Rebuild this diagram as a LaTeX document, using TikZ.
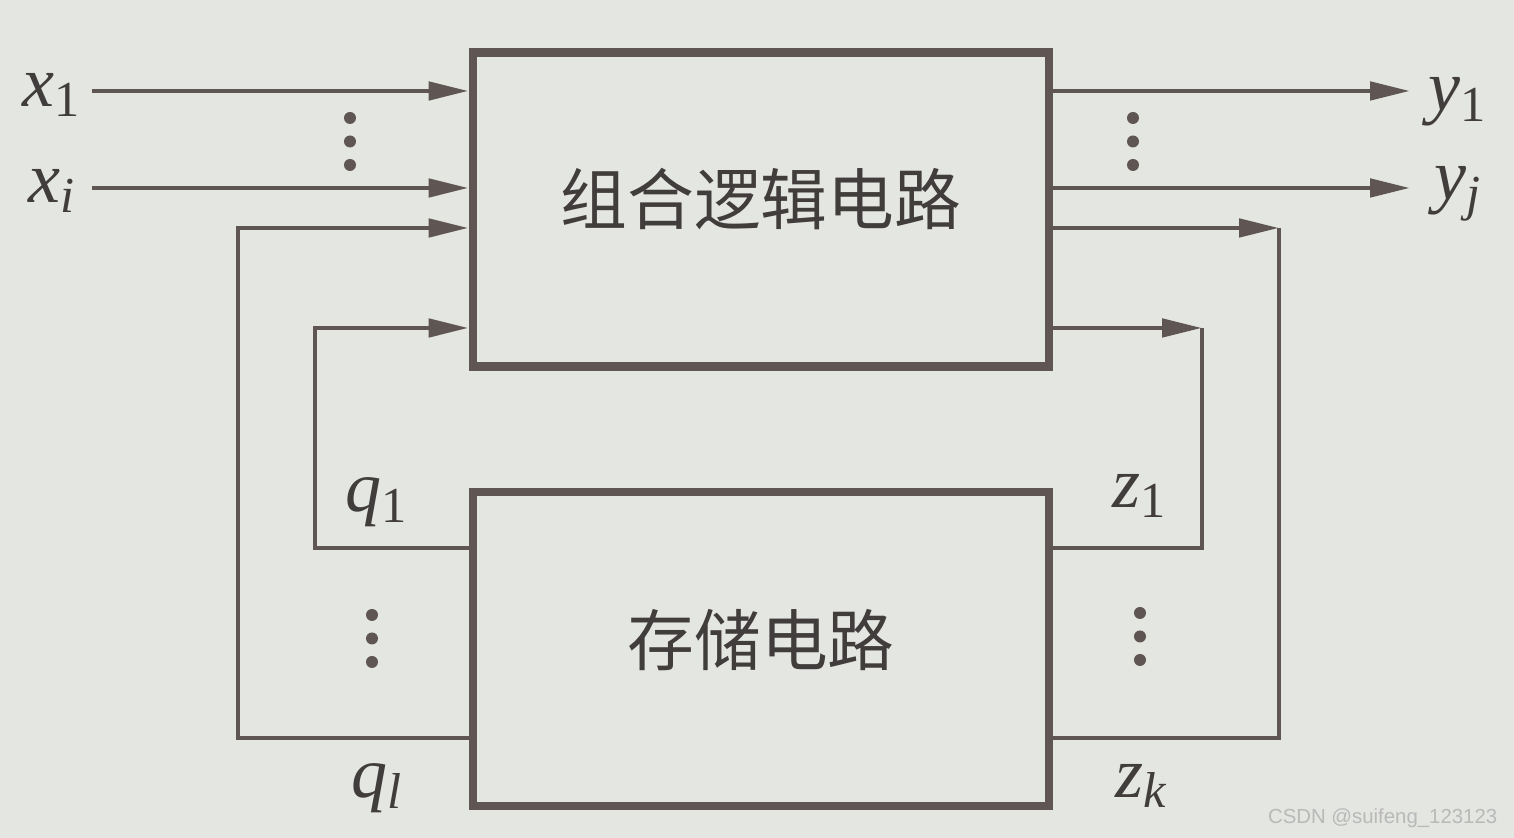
\documentclass[tikz,border=0pt]{standalone}
\usepackage{fontspec}
\setmainfont{Liberation Serif}
\setsansfont{Liberation Sans}
\newfontfamily\cjk{Noto Sans CJK SC}
\usepackage{tikz}
\usetikzlibrary{arrows.meta}
\definecolor{bgcol}{RGB}{228,230,226}
\definecolor{inkcol}{RGB}{95,86,83}
\definecolor{txtcol}{RGB}{66,61,61}
\newcommand{\lbl}[2]{\textit{#1}\textsubscript{#2}}
\tikzset{
  blk/.style={draw=inkcol, line width=2.5pt, minimum width=5.76cm, minimum height=3.14cm},
  blktext/.style={text=txtcol, font=\cjk\fontsize{19}{22}\selectfont},
  wire/.style={draw=inkcol, line width=1.4pt},
  sig/.style={wire, -{Triangle[length=4mm,width=1.8mm]}},
  lab/.style={text=txtcol, font=\fontsize{20.5}{24}\selectfont},
  dotfill/.style={fill=inkcol}
}
\begin{document}
\begin{tikzpicture}
        \useasboundingbox[fill=bgcol] (0,0) rectangle (15.14,8.38);

        \node[blk] (comb) at (7.61,6.285) {};
        \node[blk] (mem) at (7.61,1.89) {};
        \node[blktext] (combtxt) at ([yshift=1mm]comb.center) {组合逻辑电路};
        \node[blktext] (memtxt) at ([yshift=0.9mm]mem.center) {存储电路};

        \coordinate (in1) at (0.92,7.47);
        \coordinate (ini) at (0.92,6.50);
        \coordinate (out1) at (14.10,7.47);
        \coordinate (outj) at (14.10,6.50);
        \coordinate (q1) at (3.15,2.90);
        \coordinate (q1up) at (3.15,5.10);
        \coordinate (ql) at (2.38,1.00);
        \coordinate (qlup) at (2.38,6.10);
        \coordinate (z1) at (12.02,2.90);
        \coordinate (z1up) at (12.02,5.10);
        \coordinate (zk) at (12.79,1.00);
        \coordinate (zkup) at (12.79,6.10);

        \draw[sig] (in1) -- (in1 -| comb.west);
        \draw[sig] (ini) -- (ini -| comb.west);
        \draw[sig] (out1 -| comb.east) -- (out1);
        \draw[sig] (outj -| comb.east) -- (outj);

        \draw[sig] (q1 -| mem.west) -- (q1) -- (q1up) -- (q1up -| comb.west);
        \draw[sig] (ql -| mem.west) -- (ql) -- (qlup) -- (qlup -| comb.west);

        \draw[sig] (z1up -| comb.east) -- (z1up);
        \draw[wire] (z1up) -- (z1) -- (z1 -| mem.east);
        \draw[sig] (zkup -| comb.east) -- (zkup);
        \draw[wire] (zkup) -- (zk) -- (zk -| mem.east);

        \node[lab] (lx1) at (0.52,7.43) {\lbl{x}{1}};
        \node[lab] (lxi) at (0.52,6.47) {\lbl{x}{\textit{i}}};
        \node[lab] (ly1) at (14.58,7.36) {\lbl{y}{1}};
        \node[lab] (lyj) at (14.58,6.44) {\lbl{y}{\textit{j}}};
        \node[lab] (lq1) at (3.77,3.36) {\lbl{q}{1}};
        \node[lab] (lql) at (3.77,0.50) {\lbl{q}{\textit{l}}};
        \node[lab] (lz1) at (11.40,3.42) {\lbl{z}{1}};
        \node[lab] (lzk) at (11.42,0.52) {\lbl{z}{\textit{k}}};

        \foreach \px/\py in {3.50/7.20, 11.33/7.20, 3.72/2.23, 11.40/2.25}
            \foreach \d in {0,0.235,0.47}
                \fill[dotfill] (\px,\py-\d) circle (0.06);

        \node[font=\sffamily\fontsize{5.8}{7}\selectfont, text=gray!55, anchor=east, inner sep=0pt] (wm) at (14.98,0.20) {CSDN @suifeng\_123123};

    \end{tikzpicture}
\end{document}
